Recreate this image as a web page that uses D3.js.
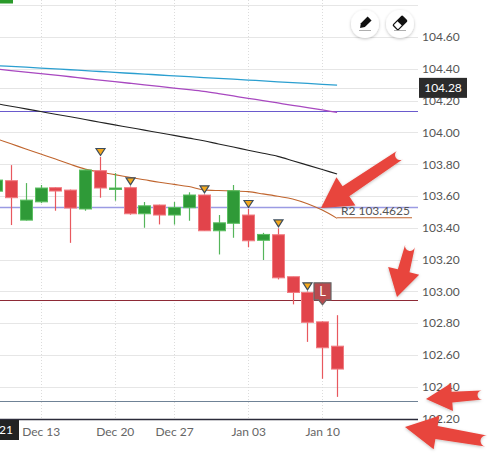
<!DOCTYPE html>
<html>
<head>
<meta charset="utf-8">
<script src="https://cdn.jsdelivr.net/npm/d3@7"></script>
<style>
  html, body { margin: 0; padding: 0; background: #fff; }
  svg { display: block; font-family: Lato, "Open Sans", sans-serif; }
</style>
</head>
<body>
<svg id="chart" width="492" height="455"></svg>
<script>
// ---------- DATA ----------
const tradingDays = ["Dec 07","Dec 08","Dec 09","Dec 10","Dec 13","Dec 14","Dec 15","Dec 16","Dec 17",
  "Dec 20","Dec 21","Dec 22","Dec 23","Dec 27","Dec 28","Dec 29","Dec 30","Dec 31",
  "Jan 03","Jan 04","Jan 05","Jan 06","Jan 07","Jan 10","Jan 11","Jan 12","Jan 13","Jan 14"];

const candleDays = ["Dec 08","Dec 09","Dec 10","Dec 13","Dec 14","Dec 15","Dec 16","Dec 17",
  "Dec 20","Dec 21","Dec 22","Dec 23","Dec 27","Dec 28","Dec 29","Dec 30","Dec 31",
  "Jan 03","Jan 04","Jan 05","Jan 06","Jan 07","Jan 10","Jan 11"];
const opens  = [103.630,103.696,103.448,103.563,103.652,103.637,103.518,103.759,103.645,103.652,103.488,103.543,
                103.480,103.526,103.606,103.381,103.428,103.480,103.321,103.356,103.092,102.993,102.808,102.655];
const highs  = [103.740,103.794,103.681,103.669,103.655,103.640,103.769,103.845,103.744,103.660,103.562,103.545,
                103.562,103.623,103.610,103.480,103.669,103.518,103.368,103.396,103.092,103.000,102.812,102.850];
const lows   = [103.600,103.417,103.445,103.555,103.507,103.305,103.507,103.589,103.570,103.482,103.400,103.421,
                103.420,103.444,103.380,103.232,103.337,103.277,103.197,103.075,102.918,102.682,102.450,102.336];
const closes = [103.700,103.589,103.574,103.650,103.631,103.524,103.763,103.650,103.650,103.488,103.538,103.480,
                103.528,103.606,103.381,103.431,103.633,103.318,103.358,103.085,102.993,102.805,102.645,102.511];

const signalDays = ["Dec 17","Dec 21","Dec 29","Jan 03","Jan 05","Jan 07"];
const labelDay = "Jan 10";
const labelText = "L";

// moving averages, Dec 07 .. Jan 11
const maDays = tradingDays.slice(0, 25);
const maCyan   = [104.426,104.420,104.415,104.410,104.404,104.399,104.394,104.388,104.383,104.377,104.372,104.367,104.361,
                  104.356,104.351,104.345,104.340,104.335,104.329,104.324,104.318,104.313,104.308,104.302,104.297];
const maPurple = [104.409,104.399,104.389,104.379,104.370,104.360,104.350,104.339,104.329,104.319,104.309,104.299,104.289,
                  104.279,104.269,104.258,104.244,104.229,104.214,104.200,104.185,104.170,104.156,104.141,104.126];
const maBlack  = [104.197,104.181,104.164,104.148,104.131,104.114,104.098,104.081,104.064,104.047,104.031,104.014,103.998,
                  103.981,103.964,103.947,103.927,103.908,103.888,103.869,103.849,103.822,103.794,103.766,103.738];
const maBrown  = [103.992,103.960,103.928,103.896,103.864,103.832,103.799,103.769,103.750,103.734,103.718,103.702,103.686,
                  103.673,103.659,103.638,103.634,103.632,103.627,103.613,103.598,103.581,103.551,103.511,103.459];

// horizontal levels
const levelPrices = [104.133, 104.28, 103.530, 102.945, 102.309];
const levelColors = ["#6a5acd", "#e4e4e4", "#9b9be3", "#8e2a36", "#6f8296"];
const r2Price = 103.4625;
const r2Label = "R2 103.4625";
const lastTag = "104.28";

const xTickDays   = ["Dec 13","Dec 20","Dec 27","Jan 03","Jan 10"];
const xTickLabels = ["Dec 13","Dec 20","Dec 27","Jan 03","Jan 10"];
const yTicks = [102.2,102.4,102.6,102.8,103.0,103.2,103.4,103.6,103.8,104.0,104.2,104.4,104.6];
const yGrid  = [102.4,102.6,102.8,103.0,103.2,103.4,103.6,103.8,104.0,104.2,104.4,104.6,104.8];
const yearLabel = "2021";

// ---------- LAYOUT ----------
const W = 492, H = 455;
const plotRight = 418, plotBottom = 419;
const svg = d3.select("#chart");
svg.append("rect").attr("width", W).attr("height", H).attr("fill", "#fff");

const x = d3.scalePoint().domain(tradingDays).range([-18.6, -18.6 + 14.82 * (tradingDays.length - 1)]);
const y = d3.scaleLinear().domain([102.2, 104.6]).range([418.5, 37]);

svg.append("clipPath").attr("id", "plotclip")
  .append("rect").attr("x", 0).attr("y", 0).attr("width", plotRight).attr("height", plotBottom);

const plot = svg.append("g").attr("clip-path", "url(#plotclip)");

// grid
plot.append("g").selectAll("line").data(yGrid).join("line")
  .attr("x1", 0).attr("x2", plotRight)
  .attr("y1", d => Math.round(y(d)) + 0.5).attr("y2", d => Math.round(y(d)) + 0.5)
  .attr("stroke", "#e6e6e6").attr("stroke-width", 1);
plot.append("g").selectAll("line").data(xTickDays).join("line")
  .attr("x1", d => Math.round(x(d)) + 0.5).attr("x2", d => Math.round(x(d)) + 0.5)
  .attr("y1", 0).attr("y2", plotBottom)
  .attr("stroke", "#dcdcdc").attr("stroke-dasharray", "1,2");

// horizontal levels
plot.append("g").selectAll("line").data(levelPrices).join("line")
  .attr("x1", 0).attr("x2", plotRight)
  .attr("y1", d => Math.round(y(d)) + 0.5).attr("y2", d => Math.round(y(d)) + 0.5)
  .attr("stroke", (d, i) => levelColors[i]).attr("stroke-width", (d, i) => i === 2 ? 1.6 : 1.1);

// moving averages
function maLine(values, color, width) {
  const line = d3.line().x((d, i) => x(maDays[i])).y(d => y(d)).curve(d3.curveMonotoneX);
  plot.append("path").datum(values).attr("d", line)
    .attr("fill", "none").attr("stroke", color).attr("stroke-width", width);
}
maLine(maCyan, "#2b9fd0", 1.3);
maLine(maPurple, "#a848c0", 1.3);
maLine(maBlack, "#222", 1.1);
maLine(maBrown, "#c0652e", 1.1);

// R2 pivot segment
plot.append("line")
  .attr("x1", x(maDays[maDays.length - 1])).attr("x2", 412)
  .attr("y1", y(r2Price)).attr("y2", y(r2Price))
  .attr("stroke", "#c0652e").attr("stroke-width", 1.1);
plot.append("text").attr("x", 410).attr("y", y(r2Price) - 3)
  .attr("text-anchor", "end").attr("font-size", 12).attr("fill", "#555").text(r2Label);

// candles
const candles = candleDays.map((d, i) => ({ day: d, o: opens[i], h: highs[i], l: lows[i], c: closes[i] }));
const up = d => d.c >= d.o;
const cg = plot.append("g");
cg.selectAll("line").data(candles).join("line")
  .attr("x1", d => Math.round(x(d.day)) + 0.5).attr("x2", d => Math.round(x(d.day)) + 0.5)
  .attr("y1", d => y(d.h)).attr("y2", d => y(d.l))
  .attr("stroke", d => up(d) ? "#55b55a" : "#e8585e").attr("stroke-width", 1.2);
cg.selectAll("rect").data(candles).join("rect")
  .attr("x", d => Math.round(x(d.day)) - 5.5).attr("width", 12)
  .attr("y", d => y(Math.max(d.o, d.c)))
  .attr("height", d => Math.max(1.5, Math.abs(y(d.o) - y(d.c))))
  .attr("fill", d => up(d) ? "#2f9a38" : "#e2444b")
  .attr("stroke", d => up(d) ? "#5cbf62" : "#f07a80").attr("stroke-width", 1);

// signal triangles
const sig = candles.filter(d => signalDays.includes(d.day));
plot.append("g").selectAll("path").data(sig).join("path")
  .attr("d", d => {
    const cx = Math.round(x(d.day)) + 0.5, cy = y(d.h) - 5;
    return `M${cx - 4.5},${cy - 3.5}L${cx + 4.5},${cy - 3.5}L${cx},${cy + 3.5}Z`;
  })
  .attr("fill", "#f4a81d").attr("stroke", "#3d4d5c").attr("stroke-width", 1.2);

// "L" label
const lc = candles.find(d => d.day === labelDay);
const lx = Math.round(x(lc.day)) + 0.5, ly = y(lc.o) - 22;
const lg = plot.append("g");
lg.append("path")
  .attr("d", `M${lx - 8.5},${ly - 17}H${lx + 8.5}V${ly}H${lx + 4}L${lx},${ly + 5}L${lx - 4},${ly}H${lx - 8.5}Z`)
  .attr("fill", "#b94a4e").attr("stroke", "#666").attr("stroke-width", 1.2);
lg.append("text").attr("x", lx).attr("y", ly - 4).attr("text-anchor", "middle")
  .attr("font-size", 13).attr("fill", "#fff").text(labelText);

// bottom axis line
svg.append("line").attr("x1", 0).attr("x2", plotRight).attr("y1", plotBottom + 0.5).attr("y2", plotBottom + 0.5)
  .attr("stroke", "#2b2b3a").attr("stroke-width", 1.3);

// x axis
const xAxis = d3.axisBottom(x).tickValues(xTickDays)
  .tickFormat(d => xTickLabels[xTickDays.indexOf(d)]).tickSize(0).tickPadding(0);
const gx = svg.append("g").attr("transform", `translate(0,${plotBottom})`).call(xAxis);
gx.select(".domain").remove();
gx.selectAll("text").attr("font-family", "Lato, sans-serif").attr("font-size", 12).attr("fill", "#666")
  .attr("dy", null).attr("y", 17);

// year box
svg.append("clipPath").attr("id", "yearclip").append("rect").attr("x", 0).attr("y", 418).attr("width", 19).attr("height", 24);
svg.append("rect").attr("x", 0).attr("y", 420).attr("width", 19).attr("height", 20).attr("fill", "#222");
svg.append("text").attr("x", 13).attr("y", 434).attr("text-anchor", "end")
  .attr("font-size", 12).attr("fill", "#fff").text(yearLabel)
  .attr("clip-path", "url(#yearclip)");

// y axis
const yAxis = d3.axisRight(y).tickValues(yTicks).tickFormat(d3.format(".2f")).tickSize(0).tickPadding(0);
const gy = svg.append("g").attr("transform", `translate(422,0)`).call(yAxis);
gy.select(".domain").remove();
gy.selectAll("text").attr("font-family", "Lato, sans-serif").attr("font-size", 12).attr("fill", "#555");

// last value tag
const tagY = y(+lastTag);
svg.append("rect").attr("x", 419).attr("y", tagY - 10).attr("width", 48).attr("height", 20).attr("fill", "#2b2b2b");
svg.append("text").attr("x", 443).attr("y", tagY + 4.5).attr("text-anchor", "middle")
  .attr("font-size", 12).attr("fill", "#fff").text(lastTag);

// top-left partial button
svg.append("rect").attr("x", 0).attr("y", 0).attr("width", 13).attr("height", 3.5).attr("fill", "#2a9a2a");

// tool icons
const defs = svg.append("defs");
const f = defs.append("filter").attr("id", "sh").attr("x", "-50%").attr("y", "-50%").attr("width", "200%").attr("height", "200%");
f.append("feDropShadow").attr("dx", 0).attr("dy", 1).attr("stdDeviation", 1.5).attr("flood-color", "#000").attr("flood-opacity", 0.25);
[[365, 24], [400, 24]].forEach(([cx, cy], k) => {
  svg.append("circle").attr("cx", cx).attr("cy", cy).attr("r", 14).attr("fill", "#fff").attr("filter", "url(#sh)");
  const g = svg.append("g").attr("transform", `translate(${cx},${cy - 1}) rotate(-45)`);
  if (k === 0) {
    g.append("path").attr("d", "M-3,-2.8H6.5V2.8H-3L-7,0Z").attr("fill", "#111");
  } else {
    g.append("rect").attr("x", -6.5).attr("y", -3.5).attr("width", 13).attr("height", 7).attr("rx", 1)
      .attr("fill", "#fff").attr("stroke", "#111").attr("stroke-width", 1.3);
    g.append("rect").attr("x", -0.5).attr("y", -3.5).attr("width", 7).attr("height", 7).attr("fill", "#111");
  }
  svg.append("line").attr("x1", cx - 6).attr("x2", cx + 6).attr("y1", cy + 6.5).attr("y2", cy + 6.5)
    .attr("stroke", "#999").attr("stroke-width", 0.8);
});

// annotation arrows
function arrowPath(t, p, w, hl, hw) {
  const dx = p[0] - t[0], dy = p[1] - t[1], L = Math.hypot(dx, dy);
  const ux = dx / L, uy = dy / L, nx = -uy, ny = ux;
  const b = [p[0] - ux * hl, p[1] - uy * hl];
  const pt = (q, s) => `${q[0] + nx * s},${q[1] + ny * s}`;
  return `M${pt(t, w / 2)}L${pt(b, w * 0.6)}L${pt(b, hw / 2)}L${p[0]},${p[1]}L${pt(b, -hw / 2)}L${pt(b, -w * 0.6)}L${pt(t, -w / 2)}` +
    `A${w / 2},${w / 2} 0 0 1 ${pt(t, w / 2)}Z`;
}
const arrows = [
  [[400, 155], [321, 208], 10, 30, 34],
  [[410, 246], [397, 297], 10, 27, 32],
  [[482, 395], [426, 399], 9, 26, 28],
  [[486, 441], [405, 427], 11, 32, 34]
];
const ag = svg.append("g").attr("filter", "url(#sh)");
arrows.forEach(a => ag.append("path").attr("d", arrowPath(...a)).attr("fill", "#e8453c"));
</script>
</body>
</html>
